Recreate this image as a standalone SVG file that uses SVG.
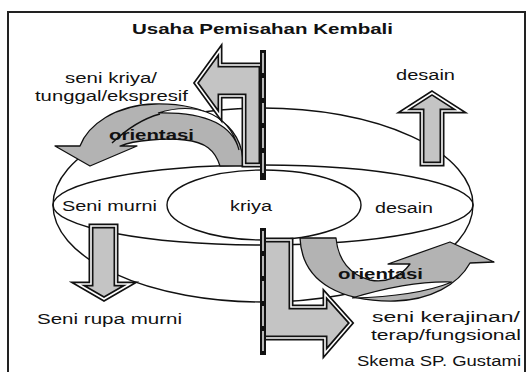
<svg xmlns="http://www.w3.org/2000/svg" xmlns:xlink="http://www.w3.org/1999/xlink" width="527" height="372" viewBox="0 0 527 372">
<style>
.ln{fill:none;stroke:#111;stroke-width:1.4}
.band{fill:#b3b3b3;stroke:#111;stroke-width:1.3;stroke-linejoin:round}
.ao{fill:#c4c4c4;stroke:#111;stroke-width:5;stroke-miterlimit:6}
.ai{fill:none;stroke:#fff;stroke-width:1.6;stroke-miterlimit:6}
.sl{fill:#fff;stroke:#111;stroke-width:1.2}
text{font-family:"Liberation Sans",Arial,sans-serif;fill:#111;font-size:15.5px}
.b{font-weight:bold}
</style>
<defs>
<path id="pUL" d="M261,65 L220,65 L220,50 L196,83 L220,116 L220,96 L244,96 L244,165 L261,165 Z"/>
<path id="pLL" d="M263,240 L291,240 L291,307 L325,307 L325,294 L351,323 L325,353 L325,338 L263,338 Z"/>
<path id="pUp" d="M432,93 L460,111 L442,111 L442,164 L422,164 L422,111 L404,111 Z"/>
<path id="pDn" d="M91,226 L116,226 L116,284 L130,284 L104,299 L78,284 L91,284 Z"/>
</defs>
<rect x="8" y="12" width="517" height="372" fill="#fff" stroke="#222" stroke-width="2"/>

<g id="title"><text class="b" x="132" y="34" font-size="14.5" textLength="261" lengthAdjust="spacingAndGlyphs">Usaha Pemisahan Kembali</text></g>

<g id="sphere">
<ellipse class="ln" cx="263" cy="205" rx="210" ry="97"/>
<ellipse class="ln" cx="263" cy="205" rx="210" ry="40"/>
</g>
<g id="kriya"><ellipse class="ln" cx="264" cy="205" rx="97" ry="35"/>
<text x="230" y="211" textLength="42" lengthAdjust="spacingAndGlyphs">kriya</text></g>

<g id="connectors">
<g id="orientasi-upper-arrow">
<path class="band" d="M243,166 C244,120 200,103 155,104 C115,105 88,125 80,146 L55,146 L90,166 L137,146 L120,146 C135,140 165,138 185,140 C205,142 215,150 220,166 Z"/>
<path class="sl" d="M158,113 C190,103 228,108 239,150 C232,124 205,112 158,113 Z"/>
<path class="ln" d="M112,143 C130,126 145,118 160,114" stroke-width="1.2"/>
</g>
<g id="orientasi-lower-arrow">
<path class="band" d="M300,238 C302,285 345,302 395,301 C430,300 458,285 470,263 L494,262 L450,242 L388,264 L410,264 C400,278 385,283 370,280 C350,275 338,260 336,238 Z"/>
<path class="sl" d="M352,298 C385,288 420,281 452,282 C430,291 395,297 352,298 Z"/>
</g>
<g id="arrow-seni-kriya"><use xlink:href="#pUL" class="ao"/><use xlink:href="#pUL" class="ai"/></g>
<g id="arrow-seni-kerajinan"><use xlink:href="#pLL" class="ao"/><use xlink:href="#pLL" class="ai"/></g>
<g id="arrow-desain"><use xlink:href="#pUp" class="ao"/><use xlink:href="#pUp" class="ai"/></g>
<g id="arrow-seni-rupa"><use xlink:href="#pDn" class="ao"/><use xlink:href="#pDn" class="ai"/></g>
<g id="bars">
<rect x="260" y="50" width="6" height="130" fill="#111"/>
<line x1="263" y1="53" x2="263" y2="178" stroke="#fff" stroke-width="1.4" stroke-dasharray="20 5"/>
<rect x="260" y="228" width="6" height="127" fill="#111"/>
<line x1="263" y1="231" x2="263" y2="353" stroke="#fff" stroke-width="1.4" stroke-dasharray="20 5"/>
</g>
</g>

<g id="label-seni-kriya">
<text x="65" y="83" textLength="92" lengthAdjust="spacingAndGlyphs">seni kriya/</text>
<text x="35" y="101" textLength="153" lengthAdjust="spacingAndGlyphs">tunggal/ekspresif</text>
</g>
<g id="label-orientasi-upper"><text class="b" x="109" y="140" textLength="85" lengthAdjust="spacingAndGlyphs">orientasi</text></g>
<g id="label-desain-top"><text x="396" y="80" textLength="59" lengthAdjust="spacingAndGlyphs">desain</text></g>
<g id="label-seni-murni"><text x="62" y="211" textLength="95" lengthAdjust="spacingAndGlyphs">Seni murni</text></g>
<g id="label-desain"><text x="375" y="213" textLength="58" lengthAdjust="spacingAndGlyphs">desain</text></g>
<g id="label-seni-rupa-murni"><text x="37" y="324" textLength="145" lengthAdjust="spacingAndGlyphs">Seni rupa murni</text></g>
<g id="label-orientasi-lower"><text class="b" x="338" y="279" textLength="85" lengthAdjust="spacingAndGlyphs">orientasi</text></g>
<g id="label-seni-kerajinan">
<text x="372" y="322" textLength="148" lengthAdjust="spacingAndGlyphs">seni kerajinan/</text>
<text x="371" y="340" textLength="150" lengthAdjust="spacingAndGlyphs">terap/fungsional</text>
</g>
<g id="label-credit"><text x="357" y="366" font-size="13.5" textLength="164" lengthAdjust="spacingAndGlyphs">Skema SP. Gustami</text></g>
</svg>
